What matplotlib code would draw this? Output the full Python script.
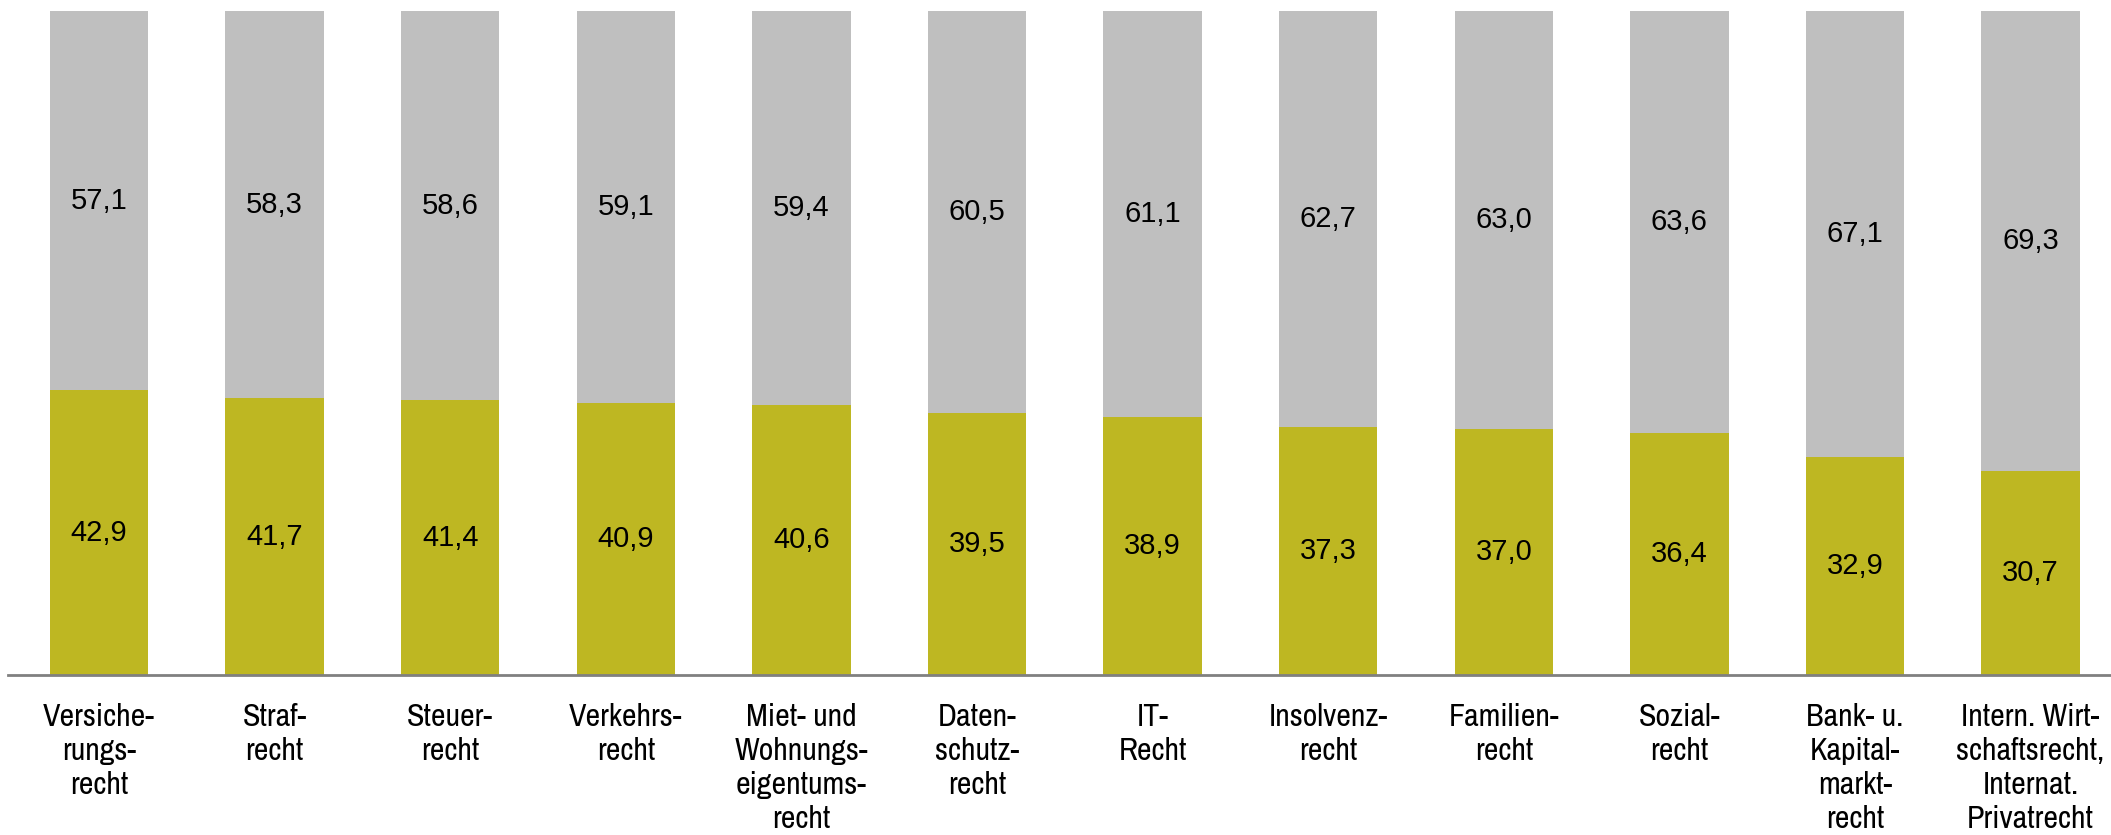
import matplotlib
matplotlib.use("Agg")
import matplotlib.pyplot as plt
from matplotlib import font_manager

categories = [
    "Versiche-\nrungs-\nrecht",
    "Straf-\nrecht",
    "Steuer-\nrecht",
    "Verkehrs-\nrecht",
    "Miet- und\nWohnungs-\neigentums-\nrecht",
    "Daten-\nschutz-\nrecht",
    "IT-\nRecht",
    "Insolvenz-\nrecht",
    "Familien-\nrecht",
    "Sozial-\nrecht",
    "Bank- u.\nKapital-\nmarkt-\nrecht",
    "Intern. Wirt-\nschaftsrecht,\nInternat.\nPrivatrecht",
]
lower_values = [42.9, 41.7, 41.4, 40.9, 40.6, 39.5, 38.9, 37.3, 37.0, 36.4, 32.9, 30.7]
upper_values = [57.1, 58.3, 58.6, 59.1, 59.4, 60.5, 61.1, 62.7, 63.0, 63.6, 67.1, 69.3]

# find a condensed / narrow sans font if any is installed
cands = []
for f in font_manager.fontManager.ttflist:
    nm = f.name.lower()
    fn = f.fname.lower()
    if f.style != "normal" or f.weight not in (400, "normal", "regular"):
        continue
    if "mono" in nm or "serif" in nm and "sans" not in nm:
        continue
    score = None
    if "narrow" in nm or "narrow" in fn:
        score = 0
    elif "condensed" in fn and "semi" not in fn and "extra" not in fn:
        score = 1
    elif str(f.stretch) in ("condensed", "semi-condensed") or (isinstance(f.stretch, int) and f.stretch < 500):
        score = 2
    if score is not None:
        pref = 0 if ("liberation" in fn or "arial" in fn) else (1 if "roboto" in fn else 2)
        cands.append((score, pref, f.fname))
cands.sort()
if cands:
    label_prop = font_manager.FontProperties(fname=cands[0][2], size=23)
else:
    label_prop = font_manager.FontProperties(family="Liberation Sans", size=20)

value_font = "Liberation Sans"

OLIVE = "#BEB722"
GRAY = "#BFBFBF"

fig = plt.figure(figsize=(21.11, 8.35), dpi=100)
W, H = 2111, 835
ax = fig.add_axes([8 / W, 1 - 675 / H, 1 - 8 / W, (675 - 11) / H])

x = list(range(len(categories)))
step = 175.6
ax.set_xlim(-(99 - 8) / step, (2111 - 99) / step)
ax.set_ylim(0, 100)

ax.bar(x, lower_values, width=0.56, color=OLIVE, edgecolor="none")
ax.bar(x, upper_values, width=0.56, bottom=lower_values, color=GRAY, edgecolor="none")

for xi, lo, hi in zip(x, lower_values, upper_values):
    ax.text(xi, lo / 2, f"{lo:.1f}".replace(".", ","), ha="center", va="center",
            fontsize=21, family=value_font, color="black")
    ax.text(xi, lo + hi / 2, f"{hi:.1f}".replace(".", ","), ha="center", va="center",
            fontsize=21, family=value_font, color="black")

for s in ["top", "right", "left"]:
    ax.spines[s].set_visible(False)
ax.spines["bottom"].set_color("#808080")
ax.spines["bottom"].set_linewidth(2)
ax.set_yticks([])
ax.set_xticks(x)
ax.set_xticklabels(categories, fontproperties=label_prop, linespacing=1.26)
ax.tick_params(axis="x", length=0, pad=20)

fig.savefig("out.png", dpi=100)
